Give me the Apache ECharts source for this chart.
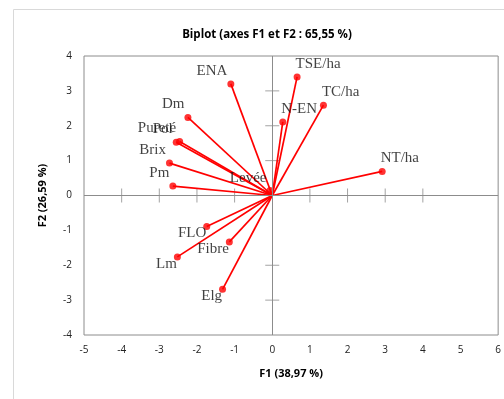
<!DOCTYPE html>
<html>
<head>
<meta charset="utf-8">
<script src="https://cdn.jsdelivr.net/npm/echarts@6/dist/echarts.min.js"></script>
<style>
  html, body { margin: 0; padding: 0; background: #fff; }
  #chart { width: 504px; height: 399px; }
</style>
</head>
<body>
<div id="chart"></div>
<script>
// variable names and their coordinates on F1 / F2
const names = ['ENA', 'Dm', 'Pureté', 'Pol', 'Brix', 'Pm', 'Levée', 'TSE/ha', 'TC/ha', 'N-EN', 'NT/ha', 'FLO', 'Fibre', 'Lm', 'Elg'];
const f1 = [-1.10, -2.24, -2.46, -2.55, -2.73, -2.64, -0.06, 0.66, 1.36, 0.28, 2.92, -1.74, -1.14, -2.52, -1.32];
const f2 = [3.20, 2.24, 1.55, 1.53, 0.93, 0.27, 0.14, 3.40, 2.59, 2.11, 0.69, -0.89, -1.33, -1.76, -2.69];

// tick marks drawn on the zero axes
const xTicks = [-4, -3, -2, -1, 1, 2, 3, 4];
const yTicks = [3, 2, 1, -2, -3];

const chart = echarts.init(document.getElementById('chart'), null, { renderer: 'canvas' });

const red = '#ff0000';
const axisGray = '#8c8c8c';
const serif = '"Liberation Serif", "DejaVu Serif", serif';
const sans = '"Open Sans", "Liberation Sans", sans-serif';

// label placement: upper-left, upper-right, lower-left
const place = {
  'TSE/ha': 'ur', 'TC/ha': 'ur', 'N-EN': 'ur', 'NT/ha': 'ur',
  'FLO': 'll', 'Fibre': 'll', 'Lm': 'll', 'Elg': 'll',
};

function labelFor(name) {
  const p = place[name] || 'ul';
  if (p === 'ur') return { position: 'right', distance: -5, offset: [0, -13] };
  if (p === 'll') return { position: 'left', distance: -3, offset: [0, 7] };
  return { position: 'left', distance: 0, offset: [0, -13] };
}

const points = names.map((n, i) => ({
  value: [f1[i], f2[i]],
  name: n,
  label: labelFor(n),
}));

const vectors = names.map((n, i) => ({ coords: [[0, 0], [f1[i], f2[i]]] }));

chart.setOption({
  animation: false,
  title: {
    text: 'Biplot (axes F1 et F2 : 65,55 %)',
    left: 262,
    top: 24,
    textAlign: 'center',
    textStyle: { fontFamily: sans, fontSize: 11.5, fontWeight: 'bold', color: '#000' },
  },
  graphic: [
    { type: 'rect', left: 11, top: 7, shape: { width: 560, height: 420 },
      style: { fill: 'none', stroke: '#d9d9d9', lineWidth: 1 }, silent: true, z: -10 },
  ],
  grid: {
    left: 84, right: 2, top: 56, bottom: 64,
    show: true, borderColor: axisGray, borderWidth: 1, backgroundColor: 'transparent',
  },
  xAxis: {
    type: 'value', min: -5, max: 6, interval: 1,
    name: 'F1 (38,97 %)', nameLocation: 'middle', nameGap: 33,
    nameTextStyle: { fontFamily: sans, fontSize: 11, fontWeight: 'bold', color: '#000' },
    axisLine: { show: false }, axisTick: { show: false }, splitLine: { show: false },
    axisLabel: { fontFamily: sans, fontSize: 10, color: '#222', margin: 10 },
  },
  yAxis: {
    type: 'value', min: -4, max: 4, interval: 1,
    name: 'F2 (26,59 %)', nameLocation: 'middle', nameGap: 36,
    nameTextStyle: { fontFamily: sans, fontSize: 11, fontWeight: 'bold', color: '#000' },
    axisLine: { show: false }, axisTick: { show: false }, splitLine: { show: false },
    axisLabel: { fontFamily: sans, fontSize: 10, color: '#222', margin: 12 },
  },
  series: [
    {
      // zero axes + ticks
      type: 'scatter',
      silent: true,
      symbol: 'rect',
      z: 1,
      itemStyle: { color: axisGray },
      data: xTicks.map(v => ({ value: [v, 0], symbolSize: [1, 14] }))
        .concat(yTicks.map(v => ({ value: [0, v], symbolSize: [14, 1] }))),
      markLine: {
        silent: true, symbol: 'none', animation: false,
        label: { show: false },
        lineStyle: { color: axisGray, width: 1, type: 'solid' },
        data: [{ xAxis: 0 }, { yAxis: 0 }],
      },
    },
    {
      type: 'lines',
      coordinateSystem: 'cartesian2d',
      silent: true,
      z: 3,
      lineStyle: { color: red, width: 1.7, opacity: 1 },
      data: vectors,
    },
    {
      type: 'scatter',
      symbol: 'circle',
      symbolSize: 7,
      z: 4,
      itemStyle: { color: red },
      label: {
        show: true,
        formatter: p => p.name,
        fontFamily: serif,
        fontSize: 15,
        color: '#111',
      },
      data: points,
    },
  ],
});
</script>
</body>
</html>
